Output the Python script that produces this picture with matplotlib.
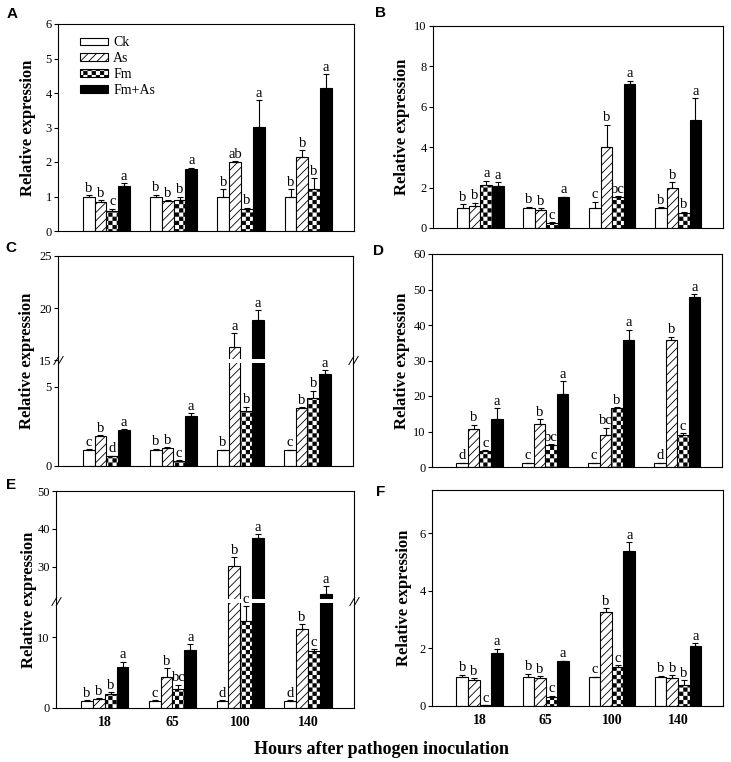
import numpy as np
import matplotlib
matplotlib.use("Agg")
import matplotlib.pyplot as plt
from matplotlib import hatch as mhatch
from matplotlib.path import Path
from matplotlib import transforms as mtrans

# ---------------- data ----------------
groups = ['18', '65', '100', '140']
series = ['Ck', 'As', 'Fm', 'Fm+As']

# rows: Ck, As, Fm, Fm+As ; columns: 18, 65, 100, 140 h
A_means = [[1.00, 1.00, 1.00, 1.00], [0.85, 0.86, 1.99, 2.14], [0.59, 0.89, 0.64, 1.23], [1.31, 1.81, 3.01, 4.15]]
A_errs = [[0.03, 0.05, 0.21, 0.21], [0.05, 0.04, 0.04, 0.21], [0.06, 0.10, 0.03, 0.30], [0.07, 0.03, 0.78, 0.40]]
A_letters = [['b', 'b', 'b', 'b'], ['b', 'b', 'ab', 'b'], ['c', 'b', 'b', 'b'], ['a', 'a', 'a', 'a']]

B_means = [[1.00, 1.00, 1.00, 1.00], [1.09, 0.87, 4.01, 1.98], [2.15, 0.25, 1.53, 0.74], [2.06, 1.52, 7.13, 5.35]]
B_errs = [[0.17, 0.05, 0.30, 0.03], [0.16, 0.10, 1.10, 0.30], [0.20, 0.03, 0.05, 0.06], [0.20, 0.03, 0.16, 1.07]]
B_letters = [['b', 'b', 'c', 'b'], ['b', 'b', 'b', 'b'], ['a', 'c', 'bc', 'b'], ['a', 'a', 'a', 'a']]

C_means = [[1.01, 1.03, 1.00, 1.00], [1.88, 1.16, 16.28, 3.67], [0.61, 0.34, 3.44, 4.28], [2.26, 3.14, 18.90, 5.80]]
C_errs = [[0.03, 0.05, 0.03, 0.03], [0.05, 0.03, 1.35, 0.03], [0.03, 0.03, 0.30, 0.46], [0.05, 0.19, 0.90, 0.25]]
C_letters = [['c', 'b', 'b', 'c'], ['b', 'b', 'a', 'b'], ['d', 'c', 'b', 'b'], ['a', 'a', 'a', 'a']]

D_means = [[1.0, 1.0, 1.0, 1.0], [10.7, 12.1, 8.9, 35.9], [4.5, 6.2, 16.5, 9.1], [13.4, 20.7, 35.7, 48.0]]
D_errs = [[0.2, 0.2, 0.2, 0.2], [1.2, 1.3, 2.2, 0.8], [0.3, 0.3, 0.3, 0.4], [3.1, 3.4, 3.0, 0.7]]
D_letters = [['d', 'c', 'c', 'd'], ['b', 'b', 'bc', 'b'], ['c', 'bc', 'b', 'c'], ['a', 'a', 'a', 'a']]

E_means = [[1.03, 1.0, 1.0, 1.0], [1.2, 4.4, 30.2, 11.1], [2.0, 2.7, 12.25, 8.0], [5.8, 8.1, 37.7, 23.0]]
E_errs = [[0.1, 0.1, 0.1, 0.1], [0.2, 1.2, 2.3, 0.7], [0.2, 0.6, 2.1, 0.3], [0.7, 0.85, 1.0, 1.9]]
E_letters = [['b', 'c', 'd', 'd'], ['b', 'b', 'b', 'b'], ['b', 'bc', 'c', 'c'], ['a', 'a', 'a', 'a']]

F_means = [[1.0, 1.0, 1.0, 1.0], [0.91, 0.97, 3.25, 0.97], [0.02, 0.31, 1.35, 0.74], [1.85, 1.55, 5.39, 2.07]]
F_errs = [[0.09, 0.12, 0.02, 0.05], [0.06, 0.06, 0.15, 0.10], [0.0, 0.05, 0.07, 0.15], [0.14, 0.02, 0.29, 0.12]]
F_letters = [['b', 'b', 'c', 'b'], ['b', 'b', 'b', 'b'], ['c', 'c', 'c', 'b'], ['a', 'a', 'a', 'a']]

A_ticks = [0, 1, 2, 3, 4, 5, 6]
B_ticks = [0, 2, 4, 6, 8, 10]
C_ticks = [0, 5, 15, 20, 25]
D_ticks = [0, 10, 20, 30, 40, 50, 60]
E_ticks = [0, 10, 30, 40, 50]
F_ticks = [0, 2, 4, 6]

# ---------------- checkerboard hatch (replaces 'O') ----------------
DPI = 100
HLW = 0.6
plt.rcParams['hatch.linewidth'] = HLW


class Checker(mhatch.HatchPatternBase):
    N = 24

    def __init__(self, hatch, density):
        self.on = hatch.count('O') > 0
        n = self.N
        self.cells = [(i, j) for i in range(n) for j in range(n) if (i + j) % 2 == 0] if self.on else []
        self.num_vertices = len(self.cells) * 5

    def set_vertices_and_codes(self, vertices, codes):
        n = self.N
        c = 1.0 / n
        sh = (HLW * DPI / 72.0) / DPI / 2.0
        k = 0
        for i, j in self.cells:
            x0, y0 = i * c + sh, j * c + sh
            x1, y1 = (i + 1) * c - sh, (j + 1) * c - sh
            vertices[k:k + 5] = [[x0, y0], [x1, y0], [x1, y1], [x0, y1], [x0, y0]]
            codes[k:k + 5] = [Path.MOVETO, Path.LINETO, Path.LINETO, Path.LINETO, Path.CLOSEPOLY]
            k += 5


mhatch._hatch_types[:] = [Checker if t is mhatch.LargeCircles else t for t in mhatch._hatch_types]

# ---------------- style ----------------
plt.rcParams['font.family'] = ['Liberation Serif', 'DejaVu Serif']
W, H = 731, 762
fig = plt.figure(figsize=(W / DPI, H / DPI), dpi=DPI)

faces = ['white', 'white', 'white', 'black']
hatches = [None, '////', 'O', None]
width = 0.175
offsets = [-1.5 * width, -0.5 * width, 0.5 * width, 1.5 * width]
x = np.arange(len(groups))


def make_break(a, b, r, g=0.05):
    def fwd(y):
        y = np.asarray(y, float)
        return np.where(y <= a, y, np.where(y >= b, a + g + (y - b) * r, a + (y - a) * g / (b - a)))

    def inv(u):
        u = np.asarray(u, float)
        return np.where(u <= a, u, np.where(u >= a + g, b + (u - a - g) / r, a + (u - a) * (b - a) / g))
    return fwd, inv


def axpos(l, r, t, b):
    return [l / W, 1 - b / H, (r - l) / W, (b - t) / H]


panels = [
    ('A', (58, 354, 24, 231), A_means, A_errs, A_letters, (0, 6), A_ticks, None, (12, 14), 28),
    ('B', (433, 723, 26, 228), B_means, B_errs, B_letters, (0, 10), B_ticks, None, (380, 13), 402),
    ('C', (58, 353, 256, 466), C_means, C_errs, C_letters, (0, 25), C_ticks, (6.6, 15, 0.658, (6.5, 15.15)), (11, 248), 27),
    ('D', (432, 722, 254, 467), D_means, D_errs, D_letters, (0, 60), D_ticks, None, (378, 251), 402),
    ('E', (56, 354, 491, 708), E_means, E_errs, E_letters, (0, 50), E_ticks, (15, 21, 0.535, (14.75, 21.5)), (11, 485), 29),
    ('F', (432, 723, 490, 706), F_means, F_errs, F_letters, (0, 7.5), F_ticks, None, (381, 492), 404),
]

brk_marker = Path([[-0.55, -0.5], [0.05, 0.5], [-0.05, -0.5], [0.55, 0.5]],
                  [Path.MOVETO, Path.LINETO, Path.MOVETO, Path.LINETO])

for name, box, means, errs, letters, ylim, ticks, brk, lab_xy, ylab_x in panels:
    l, r, t, b = box
    ax = fig.add_axes(axpos(l, r, t, b))
    if brk is not None:
        fwd, inv = make_break(brk[0], brk[1], brk[2])
        ax.set_yscale('function', functions=(fwd, inv))
    conts = []
    for k in range(4):
        c = ax.bar(x + offsets[k], means[k], width, color=faces[k], edgecolor='black',
                   hatch=hatches[k], linewidth=0.8, label=series[k], zorder=1)
        conts.append(c)
        ax.errorbar(x + offsets[k], means[k], yerr=[np.zeros(4), errs[k]], fmt='none',
                    ecolor='black', elinewidth=0.8, capsize=2.2, capthick=0.8, zorder=2)
        for gi in range(4):
            ax.annotate(letters[k][gi], (x[gi] + offsets[k], means[k][gi] + errs[k][gi]),
                        xytext=(0, 0.3), textcoords='offset points', ha='center', va='bottom',
                        fontsize=10.5, zorder=5)
    ax.set_xlim(-0.72, 3.68)
    ax.set_ylim(*ylim)
    ax.set_yticks(ticks)
    ax.set_yticklabels([str(v) for v in ticks])
    ax.tick_params(axis='y', direction='out', length=3, width=0.8, pad=1.5, labelsize=9)
    ax.set_xticks(x)
    if name in ('E', 'F'):
        ax.set_xticklabels(groups, fontsize=10, fontweight='bold')
        ax.tick_params(axis='x', length=0, pad=6)
    else:
        ax.set_xticklabels([])
        ax.tick_params(axis='x', length=0)
    for s in ax.spines.values():
        s.set_linewidth(0.8)
    if brk is not None:
        lo, hi = brk[3]
        ax.axhspan(lo, hi, color='white', zorder=2.2, lw=0)
        ymid = brk[1]
        blend = mtrans.blended_transform_factory(ax.transAxes, ax.transData)
        ax.plot([0, 1], [ymid, ymid], transform=blend, linestyle='none', marker=brk_marker,
                markersize=7, markeredgewidth=0.7, color='black', clip_on=False, zorder=6)
    if name == 'A':
        ax.legend(handles=conts, loc='upper left', bbox_to_anchor=((80 - 58) / 296, 0.94),
                  frameon=False, borderpad=0, borderaxespad=0, fontsize=10,
                  handlelength=2.0, handleheight=0.5, handletextpad=0.4, labelspacing=0.2)
    fig.text(lab_xy[0] / W, 1 - lab_xy[1] / H, name, family='Liberation Sans', fontweight='bold',
             fontsize=11, ha='center', va='center')
    fig.text(ylab_x / W, 1 - ((t + b) / 2) / H, 'Relative expression', rotation=90,
             ha='center', va='center', fontsize=12, fontweight='bold')

fig.text(382 / W, 1 - 750 / H, 'Hours after pathogen inoculation', ha='center', va='center',
         fontsize=13, fontweight='bold')

fig.savefig('out.png', dpi=DPI)
